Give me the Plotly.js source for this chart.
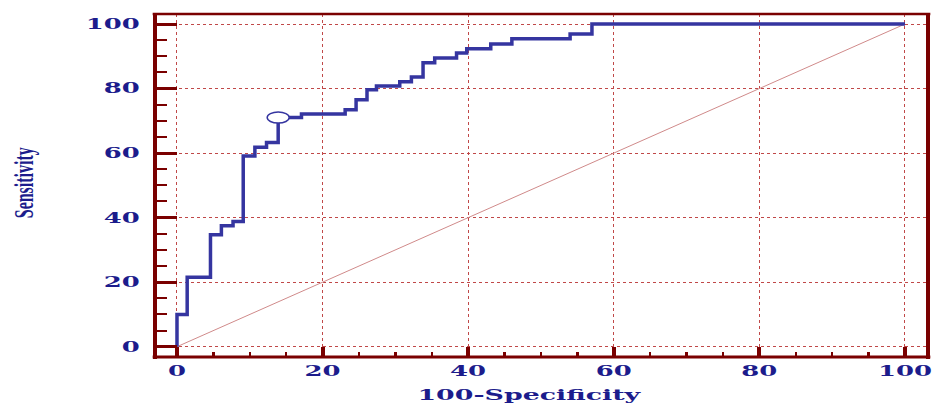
<!DOCTYPE html>
<html><head><meta charset="utf-8">
<script src="https://cdn.plot.ly/plotly-3.0.1.min.js"></script>
<style>html,body{margin:0;padding:0;background:#fff;}#chart{width:934px;height:403px;}</style>
</head><body><div id="chart"></div>
<script>
// ROC curve points (100-Specificity, Sensitivity)
const fpr = [0, 0, 1.4, 4.6, 6.1, 7.7, 9.1, 10.7, 12.3, 13.9, 17.1, 23.1, 24.6, 26.1, 27.4, 30.6, 32.2, 33.8, 35.4, 38.4, 39.8, 43.1, 46.0, 54.0, 57.0, 100];
const tpr = [0, 10.0, 21.5, 34.7, 37.5, 38.8, 59.1, 61.8, 63.3, 71.0, 72.1, 73.4, 76.5, 79.6, 80.8, 82.1, 83.6, 88.0, 89.5, 91.0, 92.3, 93.8, 95.4, 96.9, 100, 100];
// Reference (chance) diagonal
const refX = [0, 100];
const refY = [0, 100];
// Optimal criterion point
const cutX = 13.9;
const cutY = 71.0;
// Ticks
const tickVals = [0, 20, 40, 60, 80, 100];
const tickText = ['0', '20', '40', '60', '80', '100'];
const xTitle = '100-Specificity';
const yTitle = 'Sensitivity';

const dark = '#7a0000';
const grid = '#c04848';
const navy = '#1c1c8c';
const blue = '#3535a0';
const tfont = {family: 'DejaVu Serif, serif', size: 14, color: navy, weight: 'bold'};

const traces = [
  {x: refX, y: refY, mode: 'lines', line: {color: '#d08a8a', width: 1}, hoverinfo: 'skip'},
  {x: fpr, y: tpr, mode: 'lines', line: {color: blue, width: 3.5, shape: 'hv'}, hoverinfo: 'skip'}
];

const axisCommon = {
  tickmode: 'array', tickvals: tickVals, ticktext: tickText,
  ticks: 'inside', tickcolor: dark,
  showgrid: true, gridcolor: grid, gridwidth: 1, griddash: 'dot',
  zeroline: false, showline: false, tickfont: tfont, fixedrange: true
};

const layout = {
  width: 934, height: 403,
  margin: {l: 155, r: 6, t: 14, b: 46},
  paper_bgcolor: '#fff', plot_bgcolor: '#fff',
  showlegend: false,
  xaxis: Object.assign({}, axisCommon, {
    range: [-3.02, 103.16], ticklen: 10, tickwidth: 4, ticklabelstandoff: 4,
    minor: {tickmode: 'linear', tick0: 0, dtick: 5, ticks: 'inside', ticklen: 5, tickwidth: 2.5, tickcolor: dark, showgrid: false}
  }),
  yaxis: Object.assign({}, axisCommon, {
    range: [-3.19, 103.1], ticklen: 22, tickwidth: 3, ticklabelstandoff: 14,
    minor: {tickmode: 'linear', tick0: 0, dtick: 5, ticks: 'inside', ticklen: 12, tickwidth: 2, tickcolor: dark, showgrid: false}
  }),
  shapes: [
    {type: 'circle', xref: 'x', yref: 'y', xsizemode: 'pixel', ysizemode: 'pixel',
     xanchor: cutX, yanchor: cutY, x0: -11, x1: 11, y0: -5.5, y1: 5.5,
     fillcolor: '#fff', line: {color: blue, width: 1.5}, layer: 'above'},
    {type: 'line', xref: 'paper', yref: 'paper', x0: 0, x1: 0, y0: -0.006, y1: 1.003, line: {color: dark, width: 4}},
    {type: 'line', xref: 'paper', yref: 'paper', x0: 1, x1: 1, y0: -0.006, y1: 1.003, line: {color: dark, width: 4}},
    {type: 'line', xref: 'paper', yref: 'paper', x0: -0.003, x1: 1.003, y0: 1, y1: 1, line: {color: dark, width: 2.5}},
    {type: 'line', xref: 'paper', yref: 'paper', x0: -0.003, x1: 1.003, y0: 0, y1: 0, line: {color: dark, width: 3}}
  ],
  annotations: [
    {text: xTitle, xref: 'paper', yref: 'paper', x: (530 - 155) / 773, y: (357 - 395) / 343,
     xanchor: 'center', yanchor: 'middle', showarrow: false,
     font: {family: 'DejaVu Serif, serif', size: 15, color: navy, weight: 'bold'}},
    {text: yTitle, xref: 'paper', yref: 'paper', x: (23 - 155) / 773, y: (357 - 183) / 343,
     xanchor: 'center', yanchor: 'middle', showarrow: false, textangle: -90,
     font: {family: 'Liberation Serif, serif', size: 28, color: navy, weight: 'bold'}}
  ]
};

function stretch(el, fx, fy, anchor) {
  const bb = el.getBBox();
  const cx = anchor === 'end' ? bb.x + bb.width : bb.x + bb.width / 2;
  const cy = bb.y + bb.height / 2;
  const tr = el.getAttribute('transform') || '';
  el.setAttribute('transform', tr + ' translate(' + cx + ',' + cy + ') scale(' + fx + ',' + fy + ') translate(' + (-cx) + ',' + (-cy) + ')');
}

Plotly.newPlot('chart', traces, layout, {staticPlot: true, displayModeBar: false}).then(function () {
  document.querySelectorAll('.xtick text').forEach(t => stretch(t, 1.85, 1, 'middle'));
  document.querySelectorAll('.ytick text').forEach(t => stretch(t, 1.85, 1, 'end'));
  const ann = document.querySelectorAll('.annotation-text');
  ann.forEach(t => {
    const txt = t.textContent;
    const w = t.getBBox().width;
    if (txt === xTitle) stretch(t, 225 / w, 1, 'middle');
    else if (txt === yTitle) stretch(t, 71 / w, 1, 'middle');
  });
});
</script>
</body></html>
